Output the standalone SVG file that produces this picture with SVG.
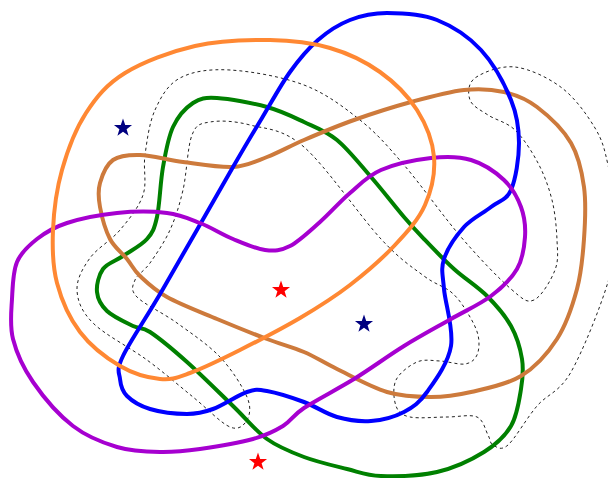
<svg xmlns="http://www.w3.org/2000/svg" width="608" height="478" viewBox="0 0 608 478">
<style>
.c{fill:none;stroke-width:4;stroke-linejoin:round;stroke-linecap:round}
.d{fill:none;stroke:#222;stroke-width:1;stroke-dasharray:3 3}
</style>
<defs>
<path id="star" d="M0,-9.5 L2.23,-3.07 L9.04,-2.94 L3.61,1.17 L5.58,7.69 L0,3.8 L-5.58,7.69 L-3.61,1.17 L-9.04,-2.94 L-2.23,-3.07 Z"/>
</defs>
<rect width="608" height="478" fill="#fff"/>
<g id="connectors">
<path id="dashed" class="d" d="M155,110 C160.8,97.2 167.5,84.7 180,78 S209.3,68.8 230,70 S282.3,76.7 304,85 S343.3,106.7 360,120 S387.2,145.5 404,165 S443.2,216.3 461,237 S498.8,278.5 511,289 S526.7,303.2 534,300 S551.2,280 555,270 S557.5,251.7 557,240 S555.2,212.8 552,200 S544.2,174.7 538,163 S523.3,138 515,130 S495.5,120 488,115 S472.2,106.2 470,100 S467.5,83.5 475,78 S500.5,65.3 515,67 S548.7,77.8 562,88 S587.3,115.2 595,128 S604.5,149.3 608,165 S616,202.5 616,222 S615.5,257 608,282 S582.8,351.3 571,372 S547.5,393.8 537,406 S515.3,438.5 508,445 S496.3,446.7 493,445 S490.7,439.7 488,435 S483.8,420 477,417 S458.2,417 447,417 S418.5,418.8 410,417 S398.3,412.2 396,406 S392.5,387.3 396,380 S409.7,365.2 417,362 S432,360.7 440,361 S458.8,365 465,364 S474.8,359.8 477,355 S479.7,342.2 478,335 S471.5,319.2 467,312 S458.2,298 451,292 S435.7,284.8 424,276 S401,260.5 381,239 S325.8,166 304,147 S265.7,129.2 250,125 S219.7,120.3 210,122 S196.5,123.7 192,135 S186.7,174.2 183,190 S175.5,217.8 170,230 S155.8,254.7 150,263 S137.2,274.3 135,280 S130,289.8 137,297 S163.2,313 177,323 S208.3,344.7 220,357 S242.5,386.5 247,397 S249.8,415 247,420 S239,430.8 230,427 S206.8,408.2 193,397 S163.7,372.3 147,360 S104.7,334.7 93,323 S77.5,300.8 77,290 S82.8,268 90,258 S111.2,240.5 120,230 S138.8,207.5 143,195 S143,169.2 145,155 S149.2,122.8 155,110 Z"/>
<path id="green" class="c" stroke="#008000" d="M217,98 C229.3,98.7 252.5,103 267,107 S292.3,116.5 304,122 S325.8,130.8 337,140 S359.8,164.2 371,177 S395.2,206.7 404,217 S415.7,230.3 424,239 S443.5,259.5 454,269 S477.5,286.5 487,296 S505.2,315.5 511,326 S520.3,348.5 522,359 S522.8,377.8 521,389 S517.2,415.5 511,426 S496.3,444.3 484,452 S454.2,468 437,472 S396,476.5 381,476 S359.8,472.2 347,469 S317.3,462 304,457 S278.8,447.5 267,439 S246.3,418.8 233,406 S200.8,374.3 187,362 S159,338 150,332 S140.2,329.5 133,326 S113,316.7 107,311 S97.7,299 97,292 S98.7,275 103,269 S115.7,261 123,256 S141.3,245.5 147,239 S154.3,229 157,217 S160.3,182 163,167 S168,137.7 173,127 S185.7,107.8 193,103 S204.7,97.3 217,98 Z"/>
<path id="brown" class="c" stroke="#cd7a3c" d="M113,160 C119.7,155.3 128.3,154.7 140,155 S167.5,160 183,162 S219,167.8 233,167 S255.2,161.5 267,157 S289.5,146.2 304,140 S336.2,126.3 354,120 S392.7,107 411,102 S448.5,91.7 464,90 S491.8,89.2 504,92 S525.8,98.5 537,107 S563.2,129.7 571,143 S581.8,171 584,187 S585.2,222 584,239 S581.5,272.3 577,289 S566.3,324.5 557,339 S535.3,367.2 521,376 S486,388.5 471,392 S445,397 431,397 S402.7,396.7 387,392 S350.8,375.7 337,369 S315.7,357 304,352 S281.5,344.5 267,339 S233.7,326 217,319 S179.8,304.2 167,297 S146.7,282.3 140,276 S132,265.2 127,259 S114.5,247.7 110,239 S101.7,216.3 100,207 S97.8,190.8 100,183 S106.3,164.7 113,160 Z"/>
<path id="blue" class="c" stroke="#0000ff" d="M387,13 C401.5,13 421.3,13.8 437,20 S468.7,36.7 481,50 S504.7,84.5 511,100 S519,128 519,143 S515.7,179.3 511,190 S498.8,200.8 491,207 S471.8,218.3 464,227 S447.3,248.7 444,259 S442.8,274.5 444,289 S453.8,328.8 451,346 S434.8,381 427,392 S413.3,407.2 404,412 S382.2,420.2 371,421 S348.2,420.2 337,417 S315.7,406.3 304,402 S276.5,392.7 267,391 S256,389 247,392 S223,405.3 213,409 S197.5,414 187,414 S160,412 150,409 S132,401 127,396 S120.7,385.7 120,379 S115.8,371 123,356 S144.7,320.5 163,289 S216.5,195.5 233,167 S252.5,133.8 262,118 S280.7,85 290,72 S308,48.7 318,40 S338.5,24.5 350,20 S372.5,13 387,13 Z"/>
<path id="purple" class="c" stroke="#a600d0" d="M67,223 C80.3,218.7 100.3,214.7 117,213 S153.2,211.3 167,213 S189,218.7 200,223 S222.2,234.5 233,239 S255.5,248.8 265,250 S280.8,250.7 290,246 S310,230.8 320,222 S339.8,201.7 350,193 S367.5,175.8 381,170 S416,159.7 431,158 S458.8,156.3 471,160 S495.7,172.2 504,180 S517.5,197.5 521,207 S525.7,226.7 525,237 S522.7,259.2 517,269 S502,287.7 491,296 S465.5,310.7 451,319 S420.2,336 404,346 S370.7,368.7 354,379 S315.8,400.2 304,408 S291.5,420.8 283,426 S266.8,435.2 253,439 S215.5,446.8 200,449 S173.8,452.3 160,452 S131.5,451.3 117,447 S87,436.8 73,426 S43,396.5 33,382 S16.5,352.8 13,339 S11.3,311.8 12,299 S12.8,272 17,262 S28.7,245.5 37,239 S53.7,227.3 67,223 Z"/>
<path id="orange" class="c" stroke="#ff8833" d="M270,40 C292.5,40.3 311.7,42.7 330,48 S365.5,61.7 380,72 S408,95.8 417,110 S432.7,141.2 434,157 S431.5,190.3 425,205 S407.5,231.7 395,245 S365.8,272.8 350,285 S318.3,307.2 300,318 S258.3,340.8 240,350 S203.3,368.2 190,373 S171.7,380.2 160,379 S133.3,373.8 120,366 S90.5,345.8 80,332 S61.5,300 57,283 S52.2,248.8 53,230 S56.5,189.5 62,170 S75.5,129.2 86,113 S106.8,84.2 125,73 S170.8,51.5 195,46 S247.5,39.7 270,40 Z"/>
</g>
<g id="star1"><use href="#star" transform="translate(123,128)" fill="#000080"/></g>
<g id="star2"><use href="#star" transform="translate(364,324)" fill="#000080"/></g>
<g id="star3"><use href="#star" transform="translate(281,290)" fill="#ff0000"/></g>
<g id="star4"><use href="#star" transform="translate(258,462)" fill="#ff0000"/></g>
</svg>
